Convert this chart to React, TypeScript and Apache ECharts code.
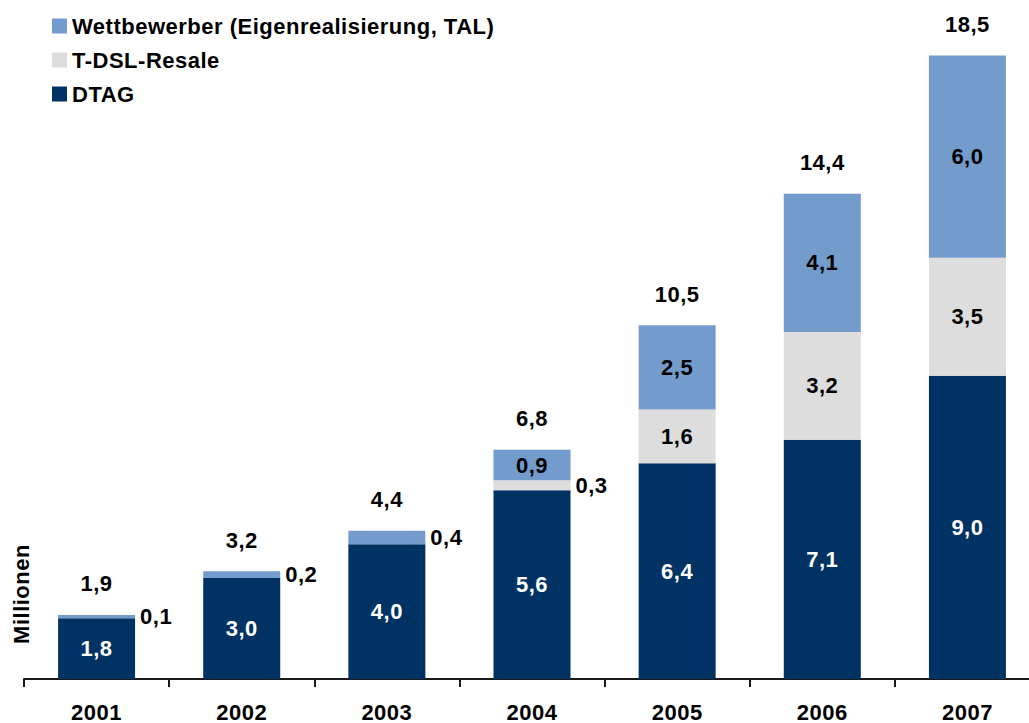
import React, { useEffect, useRef } from "react";
import * as echarts from "echarts";

const categories = ["2001", "2002", "2003", "2004", "2005", "2006", "2007"];
const dtag = [1.8, 3.0, 4.0, 5.6, 6.4, 7.1, 9.0];
const resale = [0, 0, 0, 0.3, 1.6, 3.2, 3.5];
const wettbewerber = [0.1, 0.2, 0.4, 0.9, 2.5, 4.1, 6.0];
const totals = [1.9, 3.2, 4.4, 6.8, 10.5, 14.4, 18.5];

const seriesNames = ["Wettbewerber (Eigenrealisierung, TAL)", "T-DSL-Resale", "DTAG"];

const FONT = "'Liberation Sans', Arial, Helvetica, sans-serif";
const fmt = (v: number) => v.toFixed(1).replace(".", ",");

function segmentData(values: number[], color: string) {
  return values.map((v) => {
    if (v === 0) return { value: v, label: { show: false } };
    if (v < 0.5)
      return {
        value: v,
        label: { show: true, position: "right", distance: 5, color: "#000" },
      };
    return { value: v, label: { show: true, position: "inside", color } };
  });
}

export default function App() {
  const ref = useRef<HTMLDivElement>(null);

  useEffect(() => {
    if (!ref.current) return;
    const chart = echarts.init(ref.current, undefined, { renderer: "svg" });
    const labelBase = {
      fontFamily: FONT,
      fontWeight: "bold" as const,
      fontSize: 22,
      formatter: (p: any) => fmt(p.value),
    };
    chart.setOption({
      animation: false,
      backgroundColor: "#ffffff",
      textStyle: { fontFamily: FONT },
      grid: { left: 24, right: 5, top: 5, bottom: 42 },
      legend: {
        data: seriesNames,
        orient: "vertical",
        left: 52,
        top: 15,
        padding: 0,
        itemWidth: 15,
        itemHeight: 15,
        itemGap: 12,
        icon: "rect",
        selectedMode: false,
        textStyle: { fontFamily: FONT, fontWeight: "bold", fontSize: 22, color: "#000" },
      },
      xAxis: {
        type: "category",
        data: categories,
        axisLine: { show: true, lineStyle: { color: "#1a1a1a", width: 2 } },
        axisTick: { show: true, interval: 0, length: 8, lineStyle: { color: "#1a1a1a", width: 2 } },
        axisLabel: {
          interval: 0,
          margin: 22,
          color: "#000",
          fontFamily: FONT,
          fontWeight: "bold",
          fontSize: 22,
        },
      },
      yAxis: {
        type: "value",
        min: 0,
        max: 20,
        show: false,
        splitLine: { show: false },
      },
      graphic: [
        {
          type: "text",
          x: 21,
          y: 594,
          rotation: Math.PI / 2,
          style: {
            text: "Millionen",
            fontFamily: FONT,
            fontWeight: "bold",
            fontSize: 22,
            fill: "#000",
            textAlign: "center",
            textVerticalAlign: "middle",
          },
        },
      ],
      series: [
        {
          name: "DTAG",
          type: "bar",
          stack: "total",
          barWidth: 77,
          itemStyle: { color: "#003264" },
          label: { ...labelBase, show: true, position: "inside", color: "#fff" },
          data: segmentData(dtag, "#fff"),
        },
        {
          name: "T-DSL-Resale",
          type: "bar",
          stack: "total",
          barWidth: 77,
          itemStyle: { color: "#dddddd" },
          label: { ...labelBase, show: true, position: "inside", color: "#000" },
          data: segmentData(resale, "#000"),
        },
        {
          name: "Wettbewerber (Eigenrealisierung, TAL)",
          type: "bar",
          stack: "total",
          barWidth: 77,
          itemStyle: { color: "#739bcc" },
          label: { ...labelBase, show: true, position: "inside", color: "#000" },
          data: segmentData(wettbewerber, "#000"),
        },
        {
          name: "Gesamt",
          type: "bar",
          barWidth: 77,
          barGap: "-100%",
          silent: true,
          z: 1,
          itemStyle: { color: "rgba(0,0,0,0)" },
          label: { ...labelBase, show: true, position: "top", distance: 20, color: "#000" },
          data: totals,
        },
      ],
    });
    return () => chart.dispose();
  }, []);

  return (
    <div
      style={{
        position: "absolute",
        left: 0,
        top: 0,
        width: 1029,
        height: 723,
        overflow: "hidden",
      }}
    >
      <div
        ref={ref}
        style={{
          width: 1045,
          height: 723,
          letterSpacing: "0.5px",
        }}
      />
    </div>
  );
}
